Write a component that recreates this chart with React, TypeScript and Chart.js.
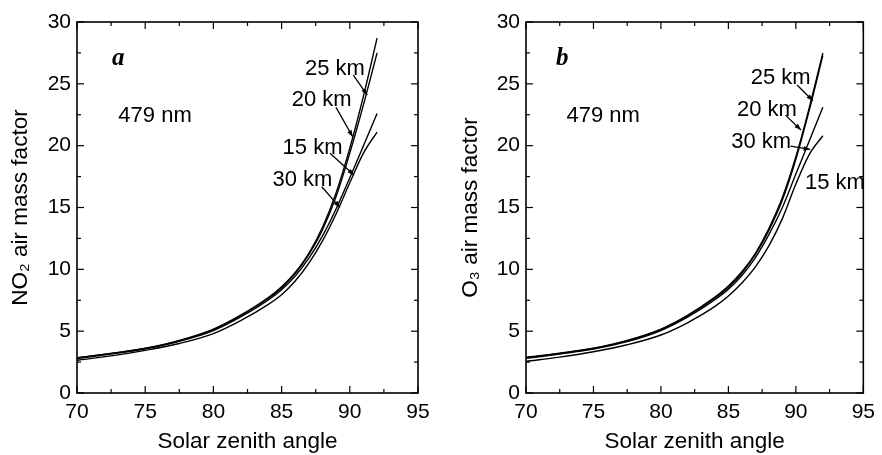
import React, { useEffect, useRef } from "react";
import { Chart, registerables } from "chart.js";
Chart.register(...registerables);

// ---- data ----
const SZA = [70, 72.5, 75, 77.5, 80, 82, 84, 85, 86, 87, 88, 89, 90, 91, 92];

const NO2_25KM = [2.85, 3.2, 3.62, 4.25, 5.17, 6.3, 7.7, 8.6, 9.75, 11.3, 13.4, 16.2, 19.8, 24.0, 28.7];
const NO2_20KM = [2.85, 3.2, 3.6, 4.22, 5.12, 6.25, 7.62, 8.5, 9.65, 11.2, 13.2, 15.9, 19.4, 23.3, 27.5];
const NO2_15KM = [2.78, 3.15, 3.57, 4.18, 5.05, 6.15, 7.5, 8.35, 9.45, 10.9, 12.7, 14.9, 17.4, 20.0, 22.6];
const NO2_30KM = [2.65, 3.0, 3.45, 4.0, 4.8, 5.85, 7.15, 7.95, 9.05, 10.5, 12.3, 14.5, 17.0, 19.4, 21.1];

const O3_25KM = [2.88, 3.22, 3.62, 4.25, 5.17, 6.3, 7.75, 8.65, 9.8, 11.3, 13.3, 15.8, 19.1, 23.1, 27.5];
const O3_20KM = [2.85, 3.2, 3.6, 4.22, 5.12, 6.25, 7.68, 8.55, 9.7, 11.2, 13.15, 15.6, 18.9, 22.9, 27.3];
const O3_30KM = [2.8, 3.15, 3.55, 4.15, 5.05, 6.15, 7.55, 8.4, 9.5, 10.95, 12.8, 15.0, 17.7, 20.4, 23.1];
const O3_15KM = [2.55, 2.9, 3.34, 3.9, 4.69, 5.7, 7.0, 7.85, 8.9, 10.2, 11.9, 14.1, 16.9, 19.3, 20.8];

const X_TICKS = [70, 75, 80, 85, 90, 95];
const Y_TICKS = [0, 5, 10, 15, 20, 25, 30];

const WAVELENGTH_LABEL = "479 nm";

// annotation placements (data coordinates)
const ANNOT_A = {
  texts: [
    { t: "a", x: 73.03, y: 27.06, panel: true },
    { t: WAVELENGTH_LABEL, x: 75.72, y: 22.43 },
    { t: "25 km", x: 88.91, y: 26.2 },
    { t: "20 km", x: 87.94, y: 23.73 },
    { t: "15 km", x: 87.27, y: 19.78 },
    { t: "30 km", x: 86.53, y: 17.26 },
  ],
  arrows: [
    [90.26, 25.71, 91.28, 24.09],
    [88.99, 23.1, 90.21, 20.72],
    [88.55, 19.38, 90.31, 17.62],
    [87.94, 16.68, 89.28, 15.01],
  ],
};
const ANNOT_B = {
  texts: [
    { t: "b", x: 72.68, y: 27.06, panel: true },
    { t: WAVELENGTH_LABEL, x: 75.72, y: 22.43 },
    { t: "25 km", x: 88.87, y: 25.44 },
    { t: "20 km", x: 87.86, y: 22.88 },
    { t: "30 km", x: 87.43, y: 20.32 },
    { t: "15 km", x: 92.9, y: 16.99 },
  ],
  arrows: [
    [90.09, 24.9, 91.26, 23.63],
    [89.23, 22.47, 90.38, 21.26],
    [89.6, 19.97, 91.06, 19.7],
  ],
};

const SANS = "'Liberation Sans', Arial, sans-serif";

function decorPlugin(annot: any) {
  return {
    id: "decor",
    afterDatasetsDraw(chart: any) {
      const { ctx, chartArea: a, scales } = chart;
      const xs = scales.x;
      const ys = scales.y;
      ctx.save();
      ctx.strokeStyle = "#000";
      ctx.fillStyle = "#000";
      ctx.lineWidth = 1.2;
      const ln = (x1: number, y1: number, x2: number, y2: number) => {
        ctx.beginPath();
        ctx.moveTo(x1, y1);
        ctx.lineTo(x2, y2);
        ctx.stroke();
      };
      for (let i = 0; i < X_TICKS.length; i++) {
        const v = X_TICKS[i];
        const px = xs.getPixelForValue(v);
        ln(px, a.bottom, px, a.bottom - 7);
        ln(px, a.top, px, a.top + 7);
        if (i < X_TICKS.length - 1) {
          const m = xs.getPixelForValue((v + X_TICKS[i + 1]) / 2);
          ln(m, a.bottom, m, a.bottom - 4);
          ln(m, a.top, m, a.top + 4);
        }
      }
      for (let i = 0; i < Y_TICKS.length; i++) {
        const v = Y_TICKS[i];
        const py = ys.getPixelForValue(v);
        ln(a.left, py, a.left + 7, py);
        ln(a.right, py, a.right - 7, py);
        if (i < Y_TICKS.length - 1) {
          const m = ys.getPixelForValue((v + Y_TICKS[i + 1]) / 2);
          ln(a.left, m, a.left + 4, m);
          ln(a.right, m, a.right - 4, m);
        }
      }
      ctx.lineWidth = 1.6;
      ctx.strokeRect(a.left, a.top, a.right - a.left, a.bottom - a.top);
      ctx.textAlign = "center";
      ctx.textBaseline = "middle";
      for (const t of annot.texts) {
        ctx.font = t.panel
          ? "italic bold 25px 'Liberation Serif', 'Times New Roman', serif"
          : `22px ${SANS}`;
        ctx.fillText(t.t, xs.getPixelForValue(t.x), ys.getPixelForValue(t.y));
      }
      ctx.lineWidth = 1.3;
      for (const ar of annot.arrows) {
        const x1 = xs.getPixelForValue(ar[0]);
        const y1 = ys.getPixelForValue(ar[1]);
        const x2 = xs.getPixelForValue(ar[2]);
        const y2 = ys.getPixelForValue(ar[3]);
        ln(x1, y1, x2, y2);
        const ang = Math.atan2(y2 - y1, x2 - x1);
        const L = 7, W = 0.35;
        ctx.beginPath();
        ctx.moveTo(x2, y2);
        ctx.lineTo(x2 - L * Math.cos(ang - W), y2 - L * Math.sin(ang - W));
        ctx.lineTo(x2 - L * Math.cos(ang + W), y2 - L * Math.sin(ang + W));
        ctx.closePath();
        ctx.fill();
      }
      ctx.restore();
    },
  };
}

function makeConfig(series: number[][], yTitle: string, yTitlePad: number, yWidth: number, padRight: number, annot: any) {
  return {
    type: "line",
    data: {
      labels: SZA,
      datasets: series.map((s) => ({
        data: SZA.map((x, i) => ({ x, y: s[i] })),
        borderColor: "#000",
        borderWidth: 1.4,
        pointRadius: 0,
        fill: false,
        cubicInterpolationMode: "monotone",
      })),
    },
    options: {
      responsive: false,
      animation: false,
      events: [],
      layout: { padding: { left: 0, right: padRight, top: 22, bottom: 0 } },
      plugins: { legend: { display: false }, tooltip: { enabled: false } },
      scales: {
        x: {
          type: "linear",
          min: 70,
          max: 95,
          afterBuildTicks: (s: any) => {
            s.ticks = X_TICKS.map((v) => ({ value: v }));
          },
          afterFit: (s: any) => {
            s.height = 62;
          },
          grid: { display: false, drawTicks: false },
          border: { display: false },
          ticks: { color: "#000", padding: 7, font: { family: SANS, size: 21 }, maxRotation: 0 },
          title: {
            display: true,
            text: "Solar zenith angle",
            color: "#000",
            font: { family: SANS, size: 22.5 },
            padding: { top: 0, bottom: 0 },
          },
        },
        y: {
          type: "linear",
          min: 0,
          max: 30,
          afterBuildTicks: (s: any) => {
            s.ticks = Y_TICKS.map((v) => ({ value: v }));
          },
          afterFit: (s: any) => {
            s.width = yWidth;
          },
          grid: { display: false, drawTicks: false },
          border: { display: false },
          ticks: { color: "#000", padding: 6, font: { family: SANS, size: 21 } },
          title: {
            display: true,
            text: yTitle,
            color: "#000",
            font: { family: SANS, size: 22.5 },
            padding: { top: yTitlePad, bottom: 0 },
          },
        },
      },
    },
    plugins: [decorPlugin(annot)],
  } as any;
}

function Panel(props: { cfg: any; left: number }) {
  const ref = useRef<HTMLCanvasElement>(null);
  useEffect(() => {
    const chart = new Chart(ref.current as HTMLCanvasElement, props.cfg);
    return () => chart.destroy();
  }, []);
  return (
    <canvas
      ref={ref}
      width={441}
      height={455}
      style={{ position: "absolute", left: props.left, top: 0, width: 441, height: 455, display: "block" }}
    />
  );
}

export default function App() {
  const cfgA = makeConfig([NO2_25KM, NO2_20KM, NO2_15KM, NO2_30KM], "NO₂ air mass factor", 7, 77, 23, ANNOT_A);
  const cfgB = makeConfig([O3_25KM, O3_20KM, O3_30KM, O3_15KM], "O₃ air mass factor", 16, 85, 15, ANNOT_B);
  return (
    <div style={{ position: "fixed", left: 0, top: 0, width: 882, height: 455, background: "#fff" }}>
      <Panel cfg={cfgA} left={0} />
      <Panel cfg={cfgB} left={441} />
    </div>
  );
}
